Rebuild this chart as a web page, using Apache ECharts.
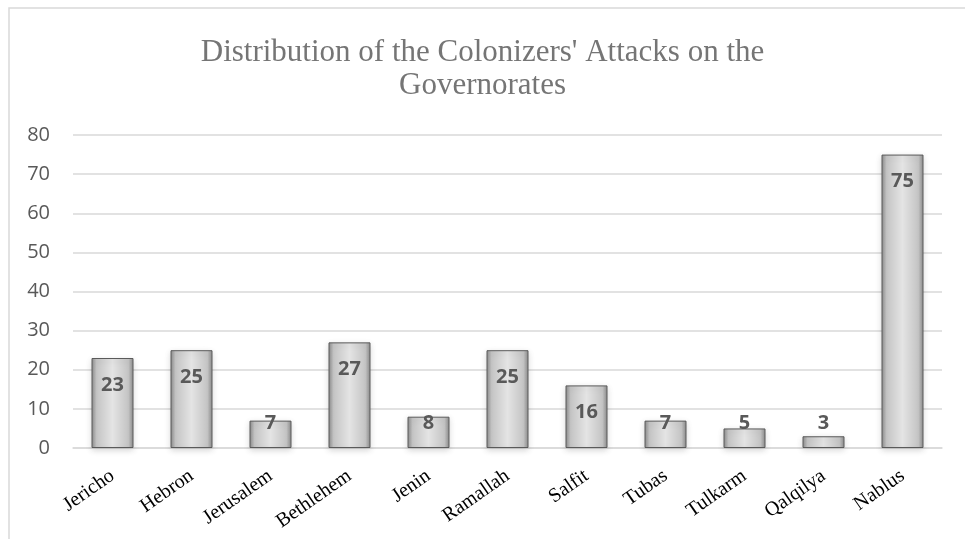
<!DOCTYPE html>
<html><head><meta charset="utf-8">
<script src="https://cdn.jsdelivr.net/npm/echarts@6/dist/echarts.min.js"></script>
<style>html,body{margin:0;padding:0;background:#fff}#c{width:965px;height:539px}</style>
</head><body><div id="c"></div>
<script>
const categories = ['Jericho','Hebron','Jerusalem','Bethlehem','Jenin','Ramallah','Salfit','Tubas','Tulkarm','Qalqilya','Nablus'];
const values = [23,25,7,27,8,25,16,7,5,3,75];
const yTicks = [0,10,20,30,40,50,60,70,80];
const titleText = "Distribution of the Colonizers' Attacks on the\nGovernorates";

const barGrad = new echarts.graphic.LinearGradient(0,0,1,0,[
  {offset:0,color:'#8a8a8a'},{offset:0.12,color:'#c4c4c4'},{offset:0.5,color:'#e4e4e4'},
  {offset:0.88,color:'#c4c4c4'},{offset:1,color:'#8a8a8a'}]);

const data = values.map(v => ({
  value: v,
  label: v >= 10 ? {position:'insideTop', distance:17} : {position:'insideBottom', distance:15}
}));

const chart = echarts.init(document.getElementById('c'), null, {renderer:'canvas'});
chart.setOption({
  animation:false,
  backgroundColor:'#fff',
  title:{text:titleText,left:'center',top:31,
    textStyle:{fontFamily:'Liberation Serif',fontSize:31,fontWeight:'normal',color:'#757575',lineHeight:33}},
  grid:{left:73,right:23,top:135,bottom:91,containLabel:false},
  graphic:[{type:'rect',shape:{x:9,y:8,width:1000,height:600},style:{fill:'none',stroke:'#d9d9d9',lineWidth:1.5},z:-1}],
  xAxis:{type:'category',data:categories,
    axisLine:{lineStyle:{color:'#d9d9d9',width:1.5}},axisTick:{show:false},
    axisLabel:{rotate:35,margin:26,interval:0,fontFamily:'Liberation Serif',fontSize:20,color:'#000'}},
  yAxis:{type:'value',min:yTicks[0],max:yTicks[yTicks.length-1],interval:10,
    axisLine:{show:false},axisTick:{show:false},
    splitLine:{lineStyle:{color:'#d9d9d9',width:1.5}},
    axisLabel:{margin:23,fontFamily:'Open Sans',fontSize:20,color:'#595959'}},
  series:[{type:'bar',data:data,barWidth:42,
    itemStyle:{color:barGrad,borderColor:'#5a5a5a',borderWidth:1,
      shadowColor:'rgba(0,0,0,0.15)',shadowBlur:6,shadowOffsetY:2},
    label:{show:true,fontFamily:'Open Sans',fontWeight:'bold',fontSize:20,color:'#595959'}}]
});
</script></body></html>
